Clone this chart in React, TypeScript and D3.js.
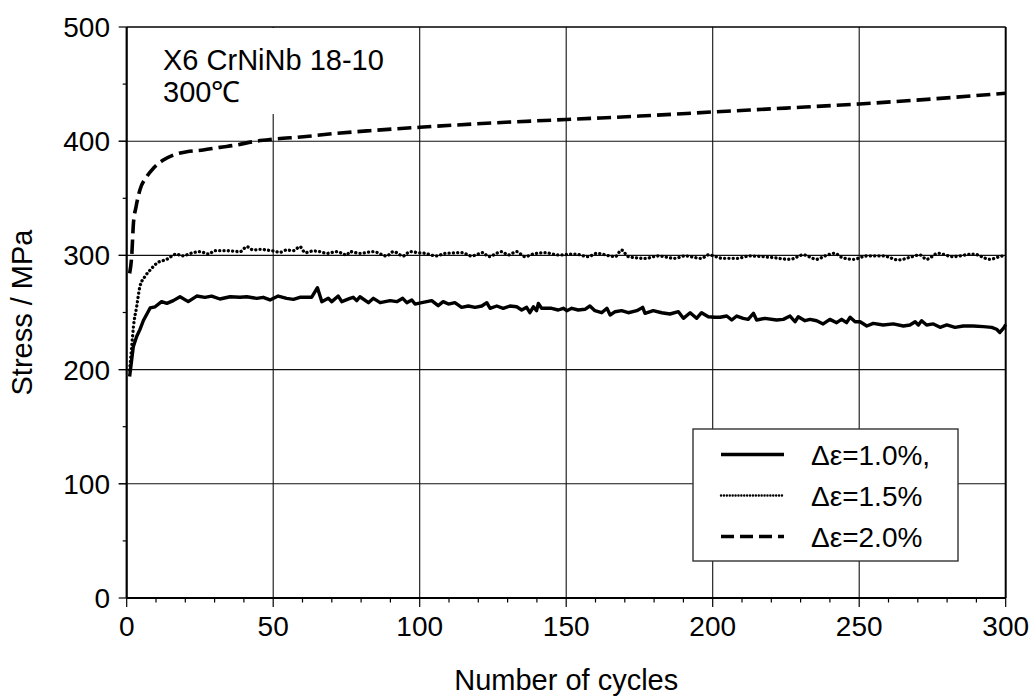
import React from "react";
import * as d3 from "d3";

// ---- Data ----
const solidCycles = [1, 2.25, 3.4, 4.5, 5.7, 8, 9.7, 11.9, 13.7, 15.9, 18.2, 21, 23.9, 26.7, 29, 31.8, 35.3, 38.7, 41, 44.4, 46.6, 48.9, 51.7, 54.6, 56.9, 59.1, 63.1, 65.1, 66.6, 68.8, 70, 72.2, 73.4, 76.2, 77.3, 78.5, 79.6, 82.5, 84.2, 86.5, 89.9, 92.2, 94.2, 95.6, 97.3, 98.4, 100.7, 104.1, 106.3, 108, 109.8, 112, 114.3, 116.6, 118.9, 121.2, 122.9, 124, 126.3, 128.5, 130.8, 133.1, 134.8, 136.5, 137.6, 138.8, 139.9, 140.5, 141.6, 145, 147.3, 149, 150.2, 151.9, 154.1, 156.4, 158.1, 159.8, 162.1, 163.9, 165, 166.7, 168.9, 171.2, 174.1, 176.1, 176.9, 179.7, 182.6, 185.4, 188.3, 190, 192.3, 194.5, 196.2, 198.5, 200.8, 202.5, 204.8, 206.5, 208.2, 210.4, 212.1, 213.9, 215, 217.8, 221.8, 224.1, 226.4, 228.1, 229.2, 231.5, 233.2, 235.5, 237.7, 240, 242.3, 244, 245.7, 246.9, 248.6, 250.3, 252.6, 254.8, 258.2, 261.6, 265.1, 267.3, 269.1, 270.2, 271.3, 273, 275.3, 277.6, 279.9, 282.7, 285.5, 288.9, 292.4, 295.2, 296.9, 298, 299.2, 300];
const solidStress = [194, 220, 229, 235, 243, 254, 255, 259.5, 258, 260.4, 263.8, 259.5, 264.4, 263.3, 264.4, 261.8, 263.8, 263.3, 263.8, 262.4, 263.3, 261, 264.4, 262.4, 261.5, 263.3, 263.3, 271.7, 259.5, 262.4, 259.5, 264.4, 259.5, 262.4, 263.3, 260.4, 263.8, 258.6, 262.4, 258.6, 260.4, 259.5, 262.4, 258.6, 261, 257.4, 258.6, 260.4, 256, 259.5, 257.4, 258.6, 254.5, 255.7, 254.5, 255.7, 258.6, 253.7, 255.7, 253.7, 255.7, 255, 252.2, 254.5, 249.8, 255, 251.6, 258, 253.7, 253.7, 252.2, 253.7, 251.6, 253.7, 252.2, 252.8, 255.7, 251.6, 249.8, 253.7, 247.8, 250.7, 251.6, 249.8, 251.6, 254.5, 249.3, 251.6, 249.8, 248.7, 250.7, 244.9, 249.8, 244.9, 249.8, 246.3, 245.8, 245.8, 246.9, 243.4, 246.9, 244.9, 244, 249.3, 243.4, 244.9, 243.4, 244, 246.9, 241.9, 246.3, 242.8, 244, 242.8, 240, 244, 241.1, 244, 241.1, 245.8, 241.9, 241.9, 238.2, 240.5, 239.1, 240, 238.2, 239.1, 241.9, 239.1, 242.8, 239.1, 240, 237, 239.1, 237, 238.2, 238.2, 237.6, 237, 235.3, 232.5, 236, 239.5];

const dottedCycles = [1, 1.7, 2.3, 3.4, 4.5, 6.2, 8, 10.2, 13.7, 17.1, 18.8, 22.7, 25, 27.9, 30.1, 34.1, 38.7, 41, 43.2, 45.5, 47.8, 50, 52.3, 54.6, 56.9, 59.1, 60.9, 63.7, 66, 68.3, 71.7, 75.1, 76.2, 79.6, 84.2, 88.7, 91, 94.4, 96.7, 99.5, 101.8, 105.8, 108.6, 114.3, 117.7, 121.7, 123.4, 128, 130.2, 133.1, 135.9, 138.8, 142.7, 147.3, 153, 157.5, 160.4, 166.7, 168.9, 171.2, 176.9, 181.4, 187.1, 190.5, 196.2, 198.5, 203.6, 208.2, 212.7, 219.6, 226.4, 230.9, 235.5, 238.3, 241.7, 244, 248, 252.6, 258.2, 263.4, 267.3, 270.7, 273, 276.9, 282, 288.9, 294.6, 299.2, 300];
const dottedStress = [199.6, 220, 237.6, 255, 272.6, 281.4, 287.2, 293, 296.6, 301.2, 299.5, 302.4, 303.3, 301.2, 304.1, 304.1, 303.3, 307.6, 304.7, 305.3, 304.7, 303.9, 302.7, 304.7, 304.1, 307.6, 302.4, 303.9, 303.3, 301.8, 303.3, 300.4, 303.3, 301.8, 303.3, 299.5, 303.3, 299.5, 303.3, 302.4, 301.8, 299.5, 301.8, 302.4, 299.5, 302.4, 298.9, 303.3, 300.4, 303.3, 298.9, 301.2, 302.4, 300.4, 301.2, 298.9, 301.8, 298.9, 304.7, 298.9, 297.4, 299.5, 297.4, 299.5, 297.4, 300.4, 297.4, 297.4, 299.5, 298.3, 296.6, 300.4, 296.6, 299.5, 301.8, 298.3, 296.6, 299.5, 299.5, 296, 298.3, 300.4, 296.6, 301.8, 298.9, 301.2, 296.6, 299.5, 299];

const dashedCycles = [1, 1.7, 2.3, 3.2, 4.5, 6.8, 9.1, 12.5, 15.9, 20.5, 26.1, 31.8, 37.5, 43.2, 50, 60.3, 71.7, 83, 100, 125, 150, 175, 200, 225, 250, 275, 300];
const dashedStress = [284.3, 298.9, 328, 342.6, 357.3, 368.9, 376.3, 383.5, 387.9, 390.8, 392.3, 394.6, 396.7, 399.6, 401.7, 403.9, 406.9, 409.2, 412.2, 416, 419, 422, 425.6, 429, 432.6, 437, 442];

const xTicks = [0, 50, 100, 150, 200, 250, 300];
const yTicks = [0, 100, 200, 300, 400, 500];
const legendLabels = ["\u0394\u03b5=1.0%,", "\u0394\u03b5=1.5%", "\u0394\u03b5=2.0%"];
const annotationLines = ["X6 CrNiNb 18-10", "300\u2103"];
const xTitle = "Number of cycles";
const yTitle = "Stress / MPa";

const FONT = "'Liberation Sans', Arial, Helvetica, sans-serif";

export default function App() {
  const W = 1034, H = 696;
  const x = d3.scaleLinear().domain([0, 300]).range([126.7, 1005.7]);
  const y = d3.scaleLinear().domain([0, 500]).range([598, 27]);
  const x0 = x(0), x1 = x(300), y0 = y(0), y1 = y(500);

  const solidLine = d3.line<[number, number]>().x(d => x(d[0])).y(d => y(d[1]));
  const smoothLine = d3.line<[number, number]>().x(d => x(d[0])).y(d => y(d[1])).curve(d3.curveMonotoneX);
  const solidPath = solidLine(solidCycles.map((c, i) => [c, solidStress[i]]))!;
  const dottedPath = smoothLine(dottedCycles.map((c, i) => [c, dottedStress[i]]))!;
  const dashedPath = smoothLine(dashedCycles.map((c, i) => [c, dashedStress[i]]))!;

  const xMinor = d3.range(0, 301, 10);
  const yMinor = d3.range(50, 500, 100);

  const lg = { x: 693, y: 429, w: 265, h: 132 };
  const rows = [454.5, 495.5, 536.5];
  const styles = [
    { dash: "none", width: 3.4, cap: "butt" },
    { dash: "0.1,2.8", width: 2.4, cap: "round" },
    { dash: "13,6", width: 3.6, cap: "butt" },
  ];

  return (
    <svg width={W} height={H} style={{ position: "absolute", left: 0, top: 0, background: "#fff" }} fontFamily={FONT}>
      <rect x={0} y={0} width={W} height={H} fill="#fff" />
      {xTicks.slice(1, -1).map(t => (
        <line key={"gx" + t} x1={x(t)} x2={x(t)} y1={y1} y2={y0} stroke="#111" strokeWidth={1.1} />
      ))}
      {yTicks.slice(1, -1).map(t => (
        <line key={"gy" + t} x1={x0 - 8} x2={x1} y1={y(t)} y2={y(t)} stroke="#111" strokeWidth={1.1} />
      ))}
      <rect x={150} y={y1 + 1} width={255} height={86} fill="#fff" />
      {annotationLines.map((t, i) => (
        <text key={t} x={163} y={70 + i * 32} fontSize={29} fill="#000">{t}</text>
      ))}

      <path d={dashedPath} fill="none" stroke="#000" strokeWidth={3.6} strokeDasharray="14,6" />
      <path d={dottedPath} fill="none" stroke="#000" strokeWidth={3.3} strokeDasharray="0.1,4.2" strokeLinecap="round" />
      <path d={solidPath} fill="none" stroke="#000" strokeWidth={3.4} strokeLinejoin="round" />

      <line x1={x0} x2={x1} y1={y1} y2={y1} stroke="#000" strokeWidth={1.6} />
      <line x1={x1} x2={x1} y1={y1} y2={y0} stroke="#000" strokeWidth={2} />
      <line x1={x0} x2={x0} y1={y1} y2={y0} stroke="#000" strokeWidth={2.2} />
      <line x1={x0} x2={x1} y1={y0} y2={y0} stroke="#000" strokeWidth={2.2} />

      {xMinor.map(t => (
        <line key={"xt" + t} x1={x(t)} x2={x(t)} y1={y0} y2={y0 + (t % 50 === 0 ? 9 : 4.5)} stroke="#000" strokeWidth={1.2} />
      ))}
      {yTicks.map(t => (
        <line key={"yt" + t} x1={x0 - 8} x2={x0} y1={y(t)} y2={y(t)} stroke="#000" strokeWidth={1.2} />
      ))}
      {yMinor.map(t => (
        <line key={"ym" + t} x1={x0 - 4} x2={x0} y1={y(t)} y2={y(t)} stroke="#000" strokeWidth={1.2} />
      ))}

      {xTicks.map(t => (
        <text key={"xl" + t} x={x(t)} y={636} fontSize={28} textAnchor="middle" fill="#000">{t}</text>
      ))}
      {yTicks.map(t => (
        <text key={"yl" + t} x={110} y={y(t) + 10} fontSize={28} textAnchor="end" fill="#000">{t}</text>
      ))}

      <text x={(x0 + x1) / 2} y={690} fontSize={29} textAnchor="middle" fill="#000">{xTitle}</text>
      <text transform={`translate(32,${(y0 + y1) / 2}) rotate(-90)`} fontSize={29} textAnchor="middle" fill="#000">{yTitle}</text>

      <rect x={lg.x} y={lg.y} width={lg.w} height={lg.h} fill="#fff" stroke="#333" strokeWidth={1.4} />
      {legendLabels.map((lab, i) => (
        <g key={lab}>
          <line x1={721} x2={784} y1={rows[i]} y2={rows[i]} stroke="#000" strokeWidth={styles[i].width}
            strokeDasharray={styles[i].dash} strokeLinecap={styles[i].cap as any} />
          <text x={811} y={rows[i] + 10} fontSize={28} fill="#000">{lab}</text>
        </g>
      ))}
    </svg>
  );
}
